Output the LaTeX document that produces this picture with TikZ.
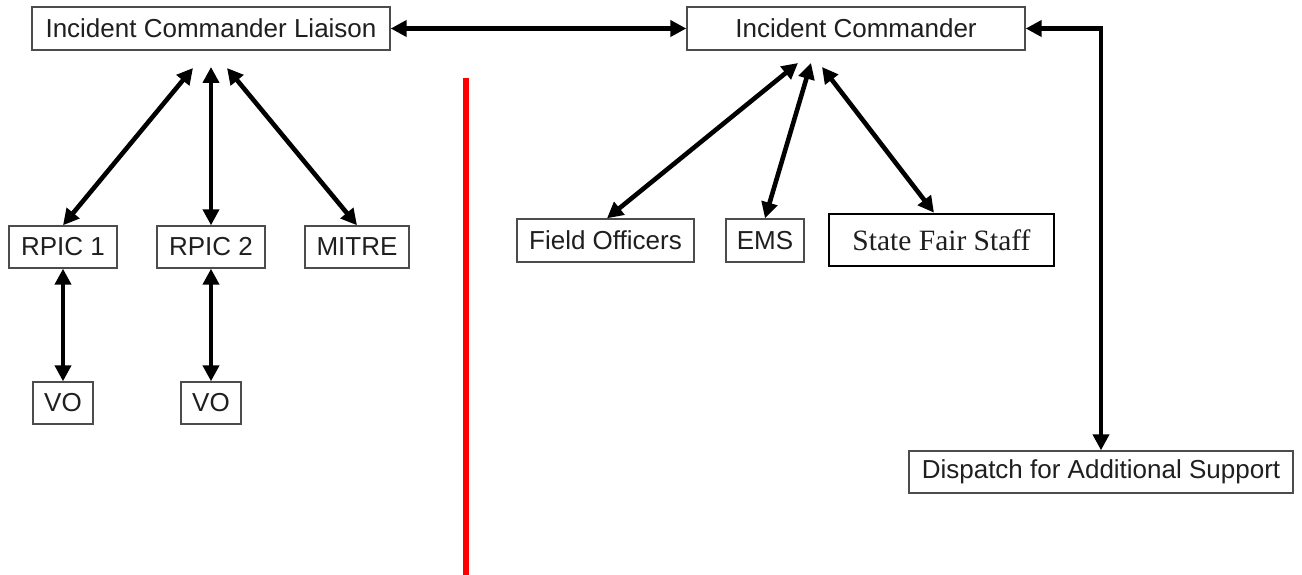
\documentclass[tikz,border=0pt]{standalone}
\usepackage{fontspec}
\setmainfont{Liberation Sans}
\newfontfamily\serifface{Liberation Serif}
\usetikzlibrary{arrows.meta}
\begin{document}
\begin{tikzpicture}[x=1pt,y=-1pt,
  box/.style={draw=black!70, line width=1.4pt, fill=white, inner sep=0pt,
    text=black!88, font=\fontsize{26}{30}\selectfont, anchor=center},
  boldbox/.style={box, draw=black, line width=2.6pt},
  conn/.style={line width=4.6pt, black,
    {Triangle[length=16pt,width=16pt]}-{Triangle[length=16pt,width=16pt]}},
  divider/.style={line width=5.5pt, color=red}]
  \useasboundingbox (0,0) rectangle (1302,575);

  % left branch
  \node[box, minimum width=358pt, minimum height=43pt] (icl) at (211,28.5) {Incident Commander Liaison};
  \node[box, minimum width=108pt, minimum height=42pt] (rpic1) at (63,247) {RPIC 1};
  \node[box, minimum width=108pt, minimum height=42pt] (rpic2) at (211,247) {RPIC 2};
  \node[box, minimum width=104pt, minimum height=42pt] (mitre) at (357,247) {MITRE};
  \node[box, minimum width=60pt, minimum height=42pt] (vo1) at (63,403) {VO};
  \node[box, minimum width=60pt, minimum height=42pt] (vo2) at (211,403) {VO};

  % right branch
  \node[box, minimum width=338pt, minimum height=43pt] (ic) at (856,28.5) {Incident Commander};
  \node[box, minimum width=177pt, minimum height=43pt] (fo) at (605.5,240.5) {Field Officers};
  \node[box, minimum width=78pt, minimum height=43pt] (ems) at (765,240.5) {EMS};
  \node[boldbox, minimum width=225pt, minimum height=52pt,
        font=\serifface\fontsize{29.5}{33}\selectfont] (sfs) at (941.5,240) {State Fair Staff};
  \node[box, minimum width=384pt, minimum height=42pt] (disp) at (1101,472) {Dispatch for Additional Support};

  % free ends of the arrows below the two commanders
  \coordinate (iclA) at (193,68);
  \coordinate (iclB) at (211,67);
  \coordinate (iclC) at (227,68);
  \coordinate (icA) at (798,63);
  \coordinate (icB) at (811,63);
  \coordinate (icC) at (822,67);

  % divider line
  \coordinate (divTop) at (466,78);
  \coordinate (divBot) at (466,575);
  \draw[divider] (divTop) -- (divBot);

  % connectors
  \draw[conn] (icl.east) -- (ic.west);
  \draw[conn] (ic.east) -| (disp.north);

  \draw[conn] (rpic1.north) -- (iclA);
  \draw[conn] (rpic2.north) -- (iclB);
  \draw[conn] (mitre.north) -- (iclC);
  \draw[conn] (rpic1.south) -- (vo1.north);
  \draw[conn] (rpic2.south) -- (vo2.north);

  \draw[conn] ([xshift=1.5pt]fo.north) -- (icA);
  \draw[conn] (ems.north) -- (icB);
  \draw[conn] ([xshift=-7.5pt]sfs.north) -- (icC);
\end{tikzpicture}
\end{document}
